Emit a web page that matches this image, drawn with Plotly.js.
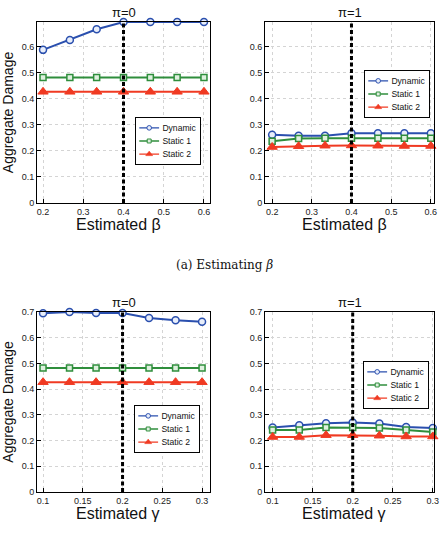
<!DOCTYPE html>
<html>
<head>
<meta charset="utf-8">
<script src="https://cdn.plot.ly/plotly-3.0.1.min.js"></script>
<style>
  html, body { margin: 0; padding: 0; background: #fff; width: 448px; height: 536px; overflow: hidden; }
  #chart { width: 448px; height: 536px; overflow: hidden; }
</style>
</head>
<body>
<div id="chart"></div>
<script>
// Estimated parameter values (x) for the two experiments
const betaEst  = [0.2, 0.2667, 0.3333, 0.4, 0.4667, 0.5333, 0.6];
const gammaEst = [0.1, 0.1333, 0.1667, 0.2, 0.2333, 0.2667, 0.3];

// True parameter values (dashed reference lines)
const betaTrue = 0.4;
const gammaTrue = 0.2;

// Aggregate damage, estimating beta, pi = 0
const betaPi0Dynamic = [0.588, 0.626, 0.667, 0.695, 0.695, 0.695, 0.695];
const betaPi0Static1 = [0.482, 0.482, 0.482, 0.482, 0.482, 0.482, 0.482];
const betaPi0Static2 = [0.427, 0.427, 0.427, 0.427, 0.427, 0.427, 0.427];

// Aggregate damage, estimating beta, pi = 1
const betaPi1Dynamic = [0.262, 0.258, 0.258, 0.268, 0.268, 0.268, 0.268];
const betaPi1Static1 = [0.237, 0.248, 0.249, 0.249, 0.249, 0.249, 0.249];
const betaPi1Static2 = [0.215, 0.218, 0.220, 0.221, 0.220, 0.219, 0.219];

// Aggregate damage, estimating gamma, pi = 0
const gammaPi0Dynamic = [0.695, 0.700, 0.696, 0.696, 0.677, 0.668, 0.662];
const gammaPi0Static1 = [0.482, 0.482, 0.482, 0.482, 0.482, 0.482, 0.482];
const gammaPi0Static2 = [0.427, 0.427, 0.427, 0.427, 0.427, 0.427, 0.427];

// Aggregate damage, estimating gamma, pi = 1
const gammaPi1Dynamic = [0.251, 0.260, 0.267, 0.270, 0.266, 0.253, 0.249];
const gammaPi1Static1 = [0.241, 0.241, 0.251, 0.251, 0.249, 0.241, 0.233];
const gammaPi1Static2 = [0.214, 0.214, 0.221, 0.221, 0.219, 0.216, 0.216];

const seriesNames = ['Dynamic', 'Static 1', 'Static 2'];
const panelTitles = ['\u03c0=0', '\u03c0=1', '\u03c0=0', '\u03c0=1'];
const xTitles = ['Estimated \u03b2', 'Estimated \u03b2', 'Estimated \u03b3', 'Estimated \u03b3'];
const captionText = '(a) Estimating <i>\u03b2</i>';

const BLUE = '#2a4fae', GREEN = '#2f8e3c', RED = '#f03a22';
const FONT = 'Liberation Sans, Arial, sans-serif';

const styles = [
  { color: BLUE,  marker: { symbol: 'circle',      size: 7, color: '#e8eefa', line: { color: BLUE, width: 1.5 } } },
  { color: GREEN, marker: { symbol: 'square',      size: 6, color: '#dff0df', line: { color: GREEN, width: 1.5 } } },
  { color: RED,   marker: { symbol: 'triangle-up', size: 9, color: RED, line: { color: RED, width: 1 } } }
];

const panels = [
  { x: betaEst,  ys: [betaPi0Dynamic, betaPi0Static1, betaPi0Static2],    xa: 'x',  ya: 'y',  leg: 'legend'  },
  { x: betaEst,  ys: [betaPi1Dynamic, betaPi1Static1, betaPi1Static2],    xa: 'x2', ya: 'y2', leg: 'legend2' },
  { x: gammaEst, ys: [gammaPi0Dynamic, gammaPi0Static1, gammaPi0Static2], xa: 'x3', ya: 'y3', leg: 'legend3' },
  { x: gammaEst, ys: [gammaPi1Dynamic, gammaPi1Static1, gammaPi1Static2], xa: 'x4', ya: 'y4', leg: 'legend4' }
];

const traces = [];
panels.forEach(p => {
  p.ys.forEach((y, i) => {
    traces.push({
      type: 'scatter', mode: 'lines+markers',
      x: p.x, y: y, name: seriesNames[i],
      xaxis: p.xa, yaxis: p.ya, legend: p.leg,
      line: { color: styles[i].color, width: 2 },
      marker: styles[i].marker,
      cliponaxis: false
    });
  });
});

function baseAxis(domain, range, dtick, anchor) {
  return {
    domain: domain, range: range, dtick: dtick, anchor: anchor,
    showline: true, mirror: true, linecolor: '#000', linewidth: 1,
    ticks: 'inside', ticklen: 4, tickcolor: '#000',
    showgrid: true, gridcolor: '#d4d4d4', griddash: 'dot', gridwidth: 1,
    zeroline: false,
    tickfont: { family: FONT, size: 9, color: '#222' }
  };
}
const yTitle = { text: 'Aggregate Damage', standoff: 5, font: { family: FONT, size: 14, color: '#111' } };

const dxL = [37 / 448, 210 / 448], dxR = [265 / 448, 434 / 448];
const dyT = [1 - 203 / 536, 1 - 22 / 536], dyB = [1 - 492 / 536, 1 - 312 / 536];

// Dashed marker of the true parameter value
const trueLine = { color: '#000', width: 3, dash: '4px,2.5px' };

const layout = {
  width: 448, height: 536, autosize: false,
  margin: { l: 0, r: 0, t: 0, b: 0 },
  paper_bgcolor: '#fff', plot_bgcolor: '#fff',
  showlegend: true,
  xaxis:  baseAxis(dxL, [0.185, 0.615], 0.1, 'y'),
  yaxis:  Object.assign(baseAxis(dyT, [0, 0.695], 0.1, 'x'), { title: yTitle }),
  xaxis2: baseAxis(dxR, [0.182, 0.608], 0.1, 'y2'),
  yaxis2: baseAxis(dyT, [0, 0.695], 0.1, 'x2'),
  xaxis3: baseAxis(dxL, [0.0924, 0.310], 0.05, 'y3'),
  yaxis3: Object.assign(baseAxis(dyB, [0, 0.7], 0.1, 'x3'), { title: yTitle }),
  xaxis4: baseAxis(dxR, [0.0905, 0.3015], 0.05, 'y4'),
  yaxis4: baseAxis(dyB, [0, 0.7], 0.1, 'x4'),
  shapes: [
    { type: 'line', xref: 'x',  yref: 'y domain',  x0: betaTrue,  x1: betaTrue,  y0: 0, y1: 1, line: trueLine },
    { type: 'line', xref: 'x2', yref: 'y2 domain', x0: betaTrue,  x1: betaTrue,  y0: 0, y1: 1, line: trueLine },
    { type: 'line', xref: 'x3', yref: 'y3 domain', x0: gammaTrue, x1: gammaTrue, y0: 0, y1: 1, line: trueLine },
    { type: 'line', xref: 'x4', yref: 'y4 domain', x0: gammaTrue, x1: gammaTrue, y0: 0, y1: 1, line: trueLine }
  ],
  annotations: []
};

// Legend boxes: top-left corner in pixels and a common shrink factor so the
// boxes stay compact inside each panel.
const legendIds = ['legend', 'legend2', 'legend3', 'legend4'];
const legendCorners = [[135, 117], [364, 70], [134, 405], [363, 361]];
const LEGEND_SCALE = 0.66;
legendIds.forEach((k, i) => {
  layout[k] = {
    // initial spot well inside the paper so no margin gets reserved for it
    x: 0.3, y: 1 - legendCorners[i][1] / 536,
    xanchor: 'left', yanchor: 'top',
    bgcolor: '#fff', bordercolor: '#000', borderwidth: 1.5,
    font: { family: FONT, size: 13, color: '#111' },
    tracegroupgap: 0, itemwidth: 30
  };
});

// Panel titles and x-axis titles
const centers = [
  { x: (dxL[0] + dxL[1]) / 2, top: dyT[1], bottom: dyT[0] },
  { x: (dxR[0] + dxR[1]) / 2, top: dyT[1], bottom: dyT[0] },
  { x: (dxL[0] + dxL[1]) / 2, top: dyB[1], bottom: dyB[0] },
  { x: (dxR[0] + dxR[1]) / 2, top: dyB[1], bottom: dyB[0] }
];
centers.forEach((p, i) => {
  layout.annotations.push({
    xref: 'paper', yref: 'paper', x: p.x, y: p.top, xanchor: 'center', yanchor: 'bottom',
    text: panelTitles[i], showarrow: false,
    font: { family: FONT, size: 13, color: '#111' }
  });
  layout.annotations.push({
    xref: 'paper', yref: 'paper', x: p.x - 0.012, y: p.bottom, xanchor: 'center', yanchor: 'top',
    yshift: -11, text: xTitles[i], showarrow: false,
    font: { family: FONT, size: 16, color: '#111' }
  });
});

// Sub-figure caption
layout.annotations.push({
  xref: 'paper', yref: 'paper', x: 0.5, y: 1 - 265 / 536, xanchor: 'center', yanchor: 'middle',
  text: captionText, showarrow: false,
  font: { family: 'DejaVu Serif, Liberation Serif, serif', size: 12, color: '#111' }
});

Plotly.newPlot('chart', traces, layout, { displayModeBar: false, staticPlot: true }).then(gd => {
  legendIds.forEach((id, i) => {
    const g = gd.querySelector('g.' + id);
    if (g) {
      g.setAttribute('transform',
        'translate(' + legendCorners[i][0] + ',' + legendCorners[i][1] + ') scale(' + LEGEND_SCALE + ')');
    }
  });
});
</script>
</body>
</html>
